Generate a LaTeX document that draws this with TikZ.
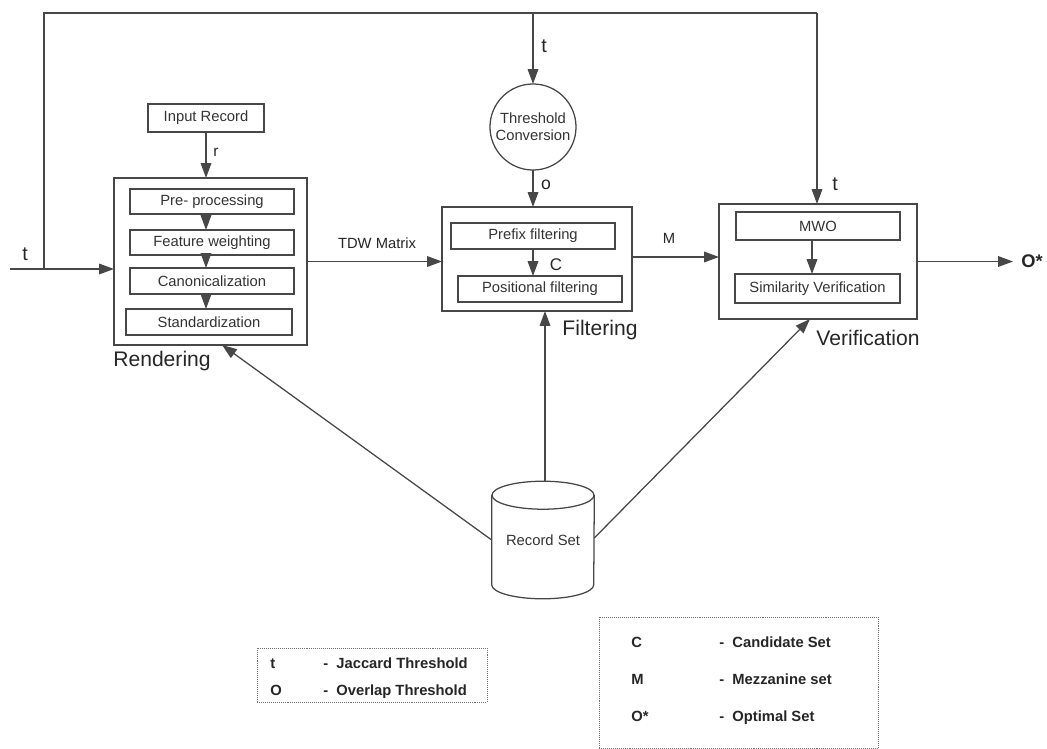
\documentclass[tikz,border=0pt]{standalone}
\usepackage{fontspec}
\setmainfont{Liberation Sans}
\usetikzlibrary{arrows.meta,shapes.geometric}
\tikzset{
  ln/.style={draw=black!72, line width=0.9pt},
  arr/.style={ln, -{Triangle[length=10.5pt,width=7.5pt]}},
  box/.style={ln, rectangle, inner sep=0pt, outer sep=0pt, text=black!80,
              font=\fontsize{10.5}{12}\selectfont},
  lbl/.style={inner sep=0pt, text=black!85},
  big/.style={lbl, font=\fontsize{15}{18}\selectfont},
  legbox/.style={draw=black!55, line width=0.6pt, dash pattern=on 0.7pt off 0.7pt, inner sep=0pt},
  legtxt/.style={inner sep=0pt, anchor=base west, text=black!85, font=\bfseries\fontsize{10.5}{12}\selectfont},
}
\begin{document}
\begin{tikzpicture}[x=0.025cm, y=-0.025cm]
\useasboundingbox (0,0) rectangle (1047,749);

% Rendering
\node[box, minimum width=4.825cm, minimum height=4.175cm] (rend) at (210.5,261.5) {};
\node[box, minimum width=2.9cm, minimum height=0.7cm] (ir) at (206,118) {Input Record};
\node[box, minimum width=4.1cm, minimum height=0.625cm] (pre) at (212,201.5) {Pre- processing};
\node[box, minimum width=4.1cm, minimum height=0.625cm] (feat) at (212,242.5) {Feature weighting};
\node[box, minimum width=4.1cm, minimum height=0.65cm] (can) at (212,281) {Canonicalization};
\node[box, minimum width=4.15cm, minimum height=0.65cm] (std) at (209,322) {Standardization};
\node[big] (rendl) at (162,361) {Rendering};

% Filtering
\node[box, minimum width=4.75cm, minimum height=2.6cm] (filt) at (537,259) {};
\node[box, minimum width=4.1cm, minimum height=0.65cm] (pf) at (533,236) {Prefix filtering};
\node[box, minimum width=4.1cm, minimum height=0.65cm] (pos) at (540,289) {Positional filtering};
\node[big] (filtl) at (600,330) {Filtering};

% Threshold conversion
\node[box, circle, minimum size=2.15cm, align=center] (tc) at (533,127) {Threshold\\Conversion};

% Verification
\node[box, minimum width=4.95cm, minimum height=2.875cm] (ver) at (818,261.5) {};
\node[box, minimum width=4.1cm, minimum height=0.7cm] (mwo) at (818,226) {MWO};
\node[box, minimum width=4.125cm, minimum height=0.725cm] (sim) at (817.5,288.5) {Similarity Verification};
\node[big] (verl) at (868,338) {Verification};

% Output
\node[lbl, anchor=west, font=\bfseries\fontsize{13}{15}\selectfont] (out) at (1021,261.5) {O*};

% Record set (cylinder)
\node[inner sep=0pt, minimum width=2.55cm, minimum height=2.925cm, text=black!80,
      font=\fontsize{10.5}{12}\selectfont] (rs) at (543,540) {\raisebox{-4pt}{Record Set}};
\draw[ln] ([yshift=-0.35cm]rs.north west) -- ([yshift=0.35cm]rs.south west)
  arc[start angle=180, end angle=360, x radius=1.275cm, y radius=0.35cm]
  -- ([yshift=-0.35cm]rs.north east);
\draw[ln] ([yshift=-0.35cm]rs.north) ellipse [x radius=1.275cm, y radius=0.35cm];

% coordinates
\coordinate (tin) at (10,269);
\coordinate (j) at (44,269);
\coordinate (top) at (44,13);
\coordinate (tv) at (817,13);
\coordinate (tt) at (533,13);

% connectors
\draw[arr] (tin) -- (tin -| rend.west);
\draw[ln] (j) -- (top) -- (tv);
\draw[arr] (tv) -- (tv |- ver.north);
\draw[arr] (tt) -- (tc.north);
\draw[arr] (tc.south) -- (tc.south |- filt.north);
\draw[arr] (ir.south) -- (ir.south |- rend.north);
\draw[arr] (pre.south -| ir.south) -- (feat.north -| ir.south);
\draw[arr] (feat.south -| ir.south) -- (can.north -| ir.south);
\draw[arr] (can.south -| ir.south) -- (std.north -| ir.south);
\draw[arr] (pf.south) -- (pf.south |- pos.north);
\draw[arr] ([xshift=-0.15cm]mwo.south) -- ([xshift=-0.15cm]mwo.south |- sim.north);
\draw[arr] (rend.east) -- (rend.east -| filt.west);
\draw[arr] ([yshift=0.05cm]filt.east) -- ([yshift=0.05cm]filt.east -| ver.west);
\draw[arr] (ver.east) -- ([xshift=-0.2cm]out.west);
\draw[arr] ([xshift=0.05cm]rs.north) -- ([xshift=0.05cm]rs.north |- filt.south);
\draw[arr] (rs.west) -- ([xshift=0.29cm]rend.south);
\draw[arr] ([yshift=0.05cm]rs.east) -- ([xshift=-0.2cm]ver.south);

% edge labels
\node[lbl, font=\fontsize{14}{16}\selectfont] (lt1) at (25,254) {t};
\node[lbl, font=\fontsize{14}{16}\selectfont] (lt2) at (544,46) {t};
\node[lbl, font=\fontsize{14}{16}\selectfont] (lt3) at (835,184) {t};
\node[lbl, font=\fontsize{11}{13}\selectfont] (lr) at (216,152) {r};
\node[lbl, font=\fontsize{12.5}{14}\selectfont] (lo) at (546,185) {o};
\node[lbl, font=\fontsize{12}{14}\selectfont] (lc) at (556,265) {C};
\node[lbl, font=\fontsize{10.5}{12}\selectfont] (ltdw) at (377,243) {TDW Matrix};
\node[lbl, font=\fontsize{10.5}{12}\selectfont] (lm) at (669,238) {M};

% legends
\node[legbox, minimum width=5.75cm, minimum height=1.35cm] (lg1) at (372,675) {};
\node[legtxt] (k1) at (270,668) {t};
\node[legtxt] (d1) at (323,668) {-\ \ Jaccard Threshold};
\node[legtxt] (k2) at (270,695) {O};
\node[legtxt] (d2) at (323,695) {-\ \ Overlap Threshold};

\node[legbox, minimum width=6.975cm, minimum height=3.275cm] (lg2) at (738.5,682.5) {};
\node[legtxt] (k3) at (631,647) {C};
\node[legtxt] (d3) at (719,647) {-\ \ Candidate Set};
\node[legtxt] (k4) at (631,684) {M};
\node[legtxt] (d4) at (719,684) {-\ \ Mezzanine set};
\node[legtxt] (k5) at (631,721) {O*};
\node[legtxt] (d5) at (719,721) {-\ \ Optimal Set};
\end{tikzpicture}
\end{document}
